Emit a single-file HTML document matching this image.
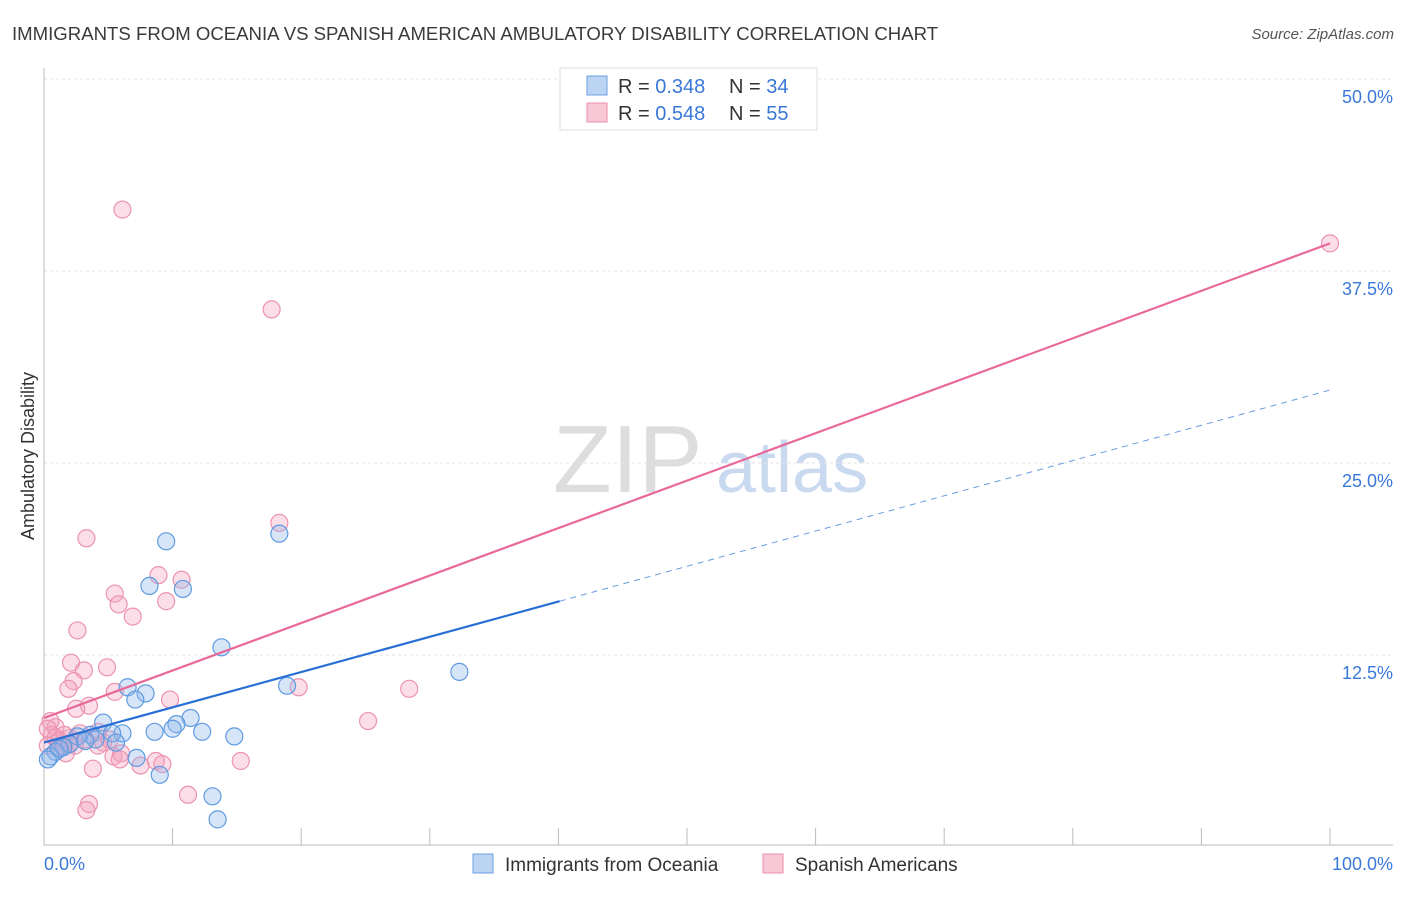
<!DOCTYPE html>
<html><head><meta charset="utf-8"><style>
body{margin:0;background:#fff;font-family:"Liberation Sans",sans-serif}
svg text{font-family:"Liberation Sans",sans-serif}
</style></head><body>
<svg width="1406" height="892" xmlns="http://www.w3.org/2000/svg" id="c">
<text x="12" y="40" font-size="18.6" fill="#3a3a3a">IMMIGRANTS FROM OCEANIA VS SPANISH AMERICAN AMBULATORY DISABILITY CORRELATION CHART</text>
<text x="1394" y="39" font-size="15" fill="#555" text-anchor="end" font-style="italic">Source: ZipAtlas.com</text>
<text transform="translate(34,456) rotate(-90)" font-size="18" fill="#333" text-anchor="middle">Ambulatory Disability</text>
<g><text x="553" y="492" font-size="96" fill="#ddd" font-family="Liberation Serif">ZIP</text><text x="716" y="492" font-size="72" fill="#c9d9f0">atlas</text></g>
<g id="grid"></g><g id="pts"></g><g id="lines"></g>
<g>
<rect x="560" y="68" width="257" height="62" fill="#fff" stroke="#ddd"/>
<rect x="587" y="76" width="20" height="19" fill="#bcd4f4" stroke="#6a9fe0"/>
<rect x="587" y="103" width="20" height="19" fill="#f9c8d6" stroke="#e890ac"/>
<text x="618" y="93" font-size="20" fill="#333">R = <tspan fill="#3a78d8">0.348</tspan></text>
<text x="729" y="93" font-size="20" fill="#333">N = <tspan fill="#3a78d8">34</tspan></text>
<text x="618" y="120" font-size="20" fill="#333">R = <tspan fill="#3a78d8">0.548</tspan></text>
<text x="729" y="120" font-size="20" fill="#333">N = <tspan fill="#3a78d8">55</tspan></text>
</g>
<g>
<rect x="473" y="854" width="20" height="19" fill="#bcd4f4" stroke="#6a9fe0"/>
<text x="505" y="871" font-size="19" fill="#333">Immigrants from Oceania</text>
<rect x="763" y="854" width="20" height="19" fill="#f9c8d6" stroke="#e890ac"/>
<text x="795" y="871" font-size="19" fill="#333">Spanish Americans</text>
</g>
</svg>
<script>
const yTicks=[12.5,25,37.5,50];
const xTickLabels=["0.0%","100.0%"];
const blueX=[9.5,18.3,8.2,10.8,13.8,32.3,18.9,6.5,7.9,7.1,11.4,10.3,4.6,10.0,8.6,12.3,6.1,14.8,5.3,3.6,2.6,4.0,5.6,2.0,1.5,0.9,0.5,7.2,9.0,13.1,13.5,0.3,1.2,3.2];
const blueY=[19.9,20.4,17.0,16.8,13.0,11.4,10.5,10.4,10.0,9.6,8.4,8.0,8.1,7.7,7.5,7.5,7.4,7.2,7.4,7.3,7.2,7.0,6.8,6.7,6.5,6.2,5.9,5.8,4.7,3.3,1.8,5.7,6.4,6.9];
const pinkX=[6.1,17.7,100,18.3,3.3,8.9,10.7,5.5,5.8,9.5,6.9,2.6,2.1,3.1,4.9,2.3,1.9,19.8,28.4,9.8,5.5,3.5,2.5,25.2,0.5,0.9,1.2,2.0,2.8,4.2,4.6,5.4,6.0,4.2,15.3,7.5,8.7,9.2,3.8,11.2,3.5,3.3,1.7,0.6,0.3,1.1,2.4,3.2,1.6,5.1,0.9,1.4,1.9,0.3,5.9];
const pinkY=[41.5,35.0,39.3,21.1,20.1,17.7,17.4,16.5,15.8,16.0,15.0,14.1,12.0,11.5,11.7,10.8,10.3,10.4,10.3,9.6,10.1,9.2,9.0,8.2,8.2,7.8,6.9,7.1,7.4,7.5,6.8,5.9,6.1,6.6,5.6,5.3,5.6,5.4,5.1,3.4,2.8,2.4,6.1,7.3,6.6,6.5,6.6,7.0,7.3,7.0,7.1,6.6,6.7,7.7,5.7];
const blueTrend=[6.8,29.75], blueSolidEnd=40.1;
const pinkTrend=[8.4,39.3];
const NS="http://www.w3.org/2000/svg";
const X=v=>44+v*12.86, Y=v=>847-v*15.36;
function mk(t,a,p){const e=document.createElementNS(NS,t);for(const k in a)e.setAttribute(k,a[k]);document.getElementById(p).appendChild(e);return e;}
yTicks.forEach(t=>{
 const g=mk('line',{x1:44,x2:1393,y1:Y(t),y2:Y(t),stroke:'#e2e2e2','stroke-dasharray':'3,3'},'grid');
 
 
 const l=mk('text',{x:1393,y:Y(t)+24,'font-size':18,fill:'#3a78d8','text-anchor':'end'},'grid');
 l.textContent=t.toFixed(1)+'%';
 
 
});
const ax=mk('line',{x1:44,x2:1393,y1:845,y2:845,stroke:'#bbb'},'grid');


const ay=mk('line',{x1:44,x2:44,y1:68,y2:845,stroke:'#bbb'},'grid');


for(let i=1;i<=10;i++){const t=mk('line',{x1:X(i*10),x2:X(i*10),y1:828,y2:845,stroke:'#bbb'},'grid');
 
 }
[[0,'start',44],[1,'end',1393]].forEach(([i,a,x])=>{const l=mk('text',{x:x,y:870,'font-size':18,fill:'#3a78d8','text-anchor':a},'grid');l.textContent=xTickLabels[i];
 
 });
pinkX.forEach((x,i)=>{const c=mk('circle',{cx:X(x),cy:Y(pinkY[i]),r:8.5,fill:'rgba(244,160,188,0.35)',stroke:'#eb93b0','stroke-width':1.2},'pts');
 
 });
blueX.forEach((x,i)=>{const c=mk('circle',{cx:X(x),cy:Y(blueY[i]),r:8.5,fill:'rgba(140,180,235,0.35)',stroke:'#5f9be0','stroke-width':1.2},'pts');
 
 });
const bAt=v=>blueTrend[0]+(blueTrend[1]-blueTrend[0])*v/100;
const b1=mk('line',{x1:X(0),y1:Y(bAt(0)),x2:X(blueSolidEnd),y2:Y(bAt(blueSolidEnd)),stroke:'#2a6fd6','stroke-width':2.2},'lines');


const b2=mk('line',{x1:X(blueSolidEnd),y1:Y(bAt(blueSolidEnd)),x2:X(100),y2:Y(bAt(100)),stroke:'#6a9be0','stroke-width':1,'stroke-dasharray':'6,5'},'lines');


const p=mk('line',{x1:X(0),y1:Y(pinkTrend[0]),x2:X(100),y2:Y(pinkTrend[1]),stroke:'#e8689a','stroke-width':2.2},'lines');


</script>
</body></html>
